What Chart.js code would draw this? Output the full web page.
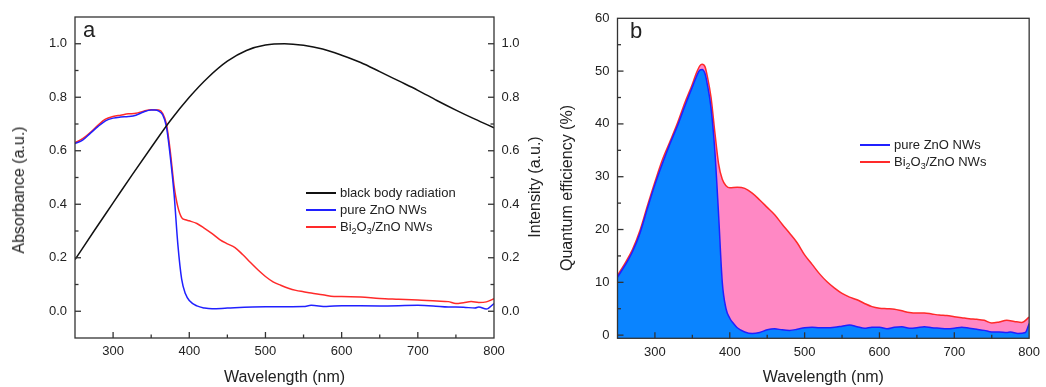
<!DOCTYPE html>
<html><head><meta charset="utf-8">
<script src="https://cdn.jsdelivr.net/npm/chart.js@4.4.1/dist/chart.umd.min.js"></script>
<style>
html,body{margin:0;padding:0;background:#fff;}
#wrap{position:relative;width:1046px;height:387px;overflow:hidden;font-family:"Liberation Sans",Arial,sans-serif;color:#222;}
canvas{position:absolute;top:0;}
#ca{left:0;}
#cb{left:540px;}
.ytitle{position:absolute;font-size:16px;white-space:nowrap;transform:translate(-50%,-50%) rotate(-90deg);z-index:2;}
.panel{position:absolute;font-size:22px;line-height:22px;z-index:2;}
.legend{position:absolute;font-size:13px;z-index:2;}
.legend .row{display:flex;align-items:center;height:17px;white-space:nowrap;}
.legend .sw{width:30px;height:0;border-top:2px solid;margin-right:4px;}
.legend sub{font-size:9px;line-height:0;vertical-align:-3px;}
</style>
</head><body>
<div id="wrap">
<canvas id="ca" width="550" height="387"></canvas>
<canvas id="cb" width="506" height="387"></canvas>
<div class="panel" style="left:83px;top:19px;">a</div>
<div class="panel" style="left:630px;top:20px;">b</div>
<div class="ytitle" style="left:19px;top:190px;">Absorbance (a.u.)</div>
<div class="ytitle" style="left:535px;top:187px;">Intensity (a.u.)</div>
<div class="ytitle" style="left:567px;top:188px;">Quantum efficiency (%)</div>
<div class="legend" style="left:306px;top:184px;">
  <div class="row"><span class="sw" style="border-color:#111"></span><span>black body radiation</span></div>
  <div class="row"><span class="sw" style="border-color:#2020ff"></span><span>pure ZnO NWs</span></div>
  <div class="row"><span class="sw" style="border-color:#ff2a2a"></span><span>Bi<sub>2</sub>O<sub>3</sub>/ZnO NWs</span></div>
</div>
<div class="legend" style="left:860px;top:136px;">
  <div class="row"><span class="sw" style="border-color:#2020ff"></span><span>pure ZnO NWs</span></div>
  <div class="row"><span class="sw" style="border-color:#ff2a2a"></span><span>Bi<sub>2</sub>O<sub>3</sub>/ZnO NWs</span></div>
</div>
</div>
<script>
// ---------- Panel a data ----------
const bbWavelength = [250,275,300,325,350,375,400,425,450,475,500,525,550,575,600,625,650,675,700,725,750,775,800];
const bbIntensity  = [0.193,0.30,0.405,0.51,0.612,0.712,0.80,0.875,0.935,0.975,0.995,1.0,0.994,0.98,0.957,0.93,0.896,0.861,0.826,0.788,0.752,0.718,0.686];

const absWavelengthZnO = [250,260,270,280,290,300,310,320,330,340,350,355,360,365,370,375,380,385,390,395,400,410,420,430,450,500,550,560,580,600,650,700,720,740,760,775,780,790,800];
const absZnO = [0.627,0.64,0.665,0.69,0.712,0.722,0.726,0.728,0.733,0.745,0.752,0.752,0.748,0.735,0.69,0.58,0.44,0.25,0.12,0.065,0.04,0.02,0.012,0.009,0.012,0.017,0.018,0.022,0.018,0.021,0.02,0.022,0.02,0.016,0.015,0.012,0.016,0.008,0.029];

const absWavelengthBi = [250,260,270,280,290,300,310,320,330,340,350,360,365,370,375,380,385,390,395,400,410,420,430,440,450,460,470,480,490,500,510,520,530,540,550,560,575,590,600,625,650,675,700,725,740,750,760,770,780,790,800];
const absBi = [0.63,0.645,0.668,0.695,0.718,0.728,0.733,0.738,0.74,0.748,0.753,0.752,0.74,0.70,0.60,0.47,0.39,0.35,0.342,0.338,0.328,0.31,0.29,0.268,0.252,0.238,0.212,0.183,0.155,0.13,0.11,0.097,0.086,0.078,0.073,0.068,0.062,0.055,0.055,0.053,0.048,0.045,0.042,0.038,0.036,0.029,0.032,0.036,0.033,0.035,0.047];

// ---------- Panel b data ----------
const qeWavelengthBi = [250,260,270,280,290,300,310,320,330,340,350,355,360,363,367,370,375,380,385,390,395,400,410,420,430,440,450,460,470,480,490,500,510,520,530,540,550,560,570,580,590,600,610,620,630,640,650,660,670,680,690,700,710,720,730,740,750,760,770,780,790,800];
const qeBi = [11.3,13.6,16.2,19.8,24.5,29.0,33.2,36.6,40.1,44.0,47.5,49.5,51.0,51.3,50.8,49.0,45.0,38.5,32.5,29.5,28.3,27.9,28.0,27.8,26.9,25.6,24.2,22.8,21.0,19.3,17.5,15.2,13.4,11.6,10.1,8.9,7.9,7.2,6.7,6.0,5.4,5.1,5.0,4.9,4.6,4.3,4.2,4.2,4.0,3.8,3.7,3.5,3.3,3.1,3.0,2.8,2.3,2.5,2.8,2.6,2.4,3.4];

const qeWavelengthZnO = [250,260,270,280,290,300,310,320,330,340,350,355,360,363,367,370,375,380,385,390,395,400,405,410,420,430,440,450,460,470,480,490,500,510,520,530,540,550,560,570,580,590,600,610,620,630,640,650,660,670,680,690,700,710,720,730,740,750,760,770,775,785,795,800];
const qeZnO = [11.0,13.2,15.8,19.3,24.0,28.5,32.5,36.2,39.6,43.4,47.0,48.8,50.2,50.3,49.5,47.5,43.0,35.0,23.0,10.0,5.0,3.2,2.2,1.4,0.6,0.3,0.5,1.0,1.2,1.0,0.9,1.1,1.4,1.5,1.4,1.4,1.5,1.7,1.9,1.6,1.3,1.5,1.5,1.2,1.5,1.6,1.3,1.4,1.6,1.4,1.3,1.2,1.3,1.5,1.3,1.1,0.9,0.6,0.6,0.5,0.6,0.3,0.5,2.2];

const xTickLabels = [300,400,500,600,700,800];

function pts(xs, ys){ return xs.map((x,i)=>({x:x,y:ys[i]})); }

const FONT = {family:'"Liberation Sans", Arial, sans-serif', size:13};
const TXT = '#222';

const frameTicks = {
  id:'frameTicks',
  afterDraw(chart){
    const ctx=chart.ctx, a=chart.chartArea;
    ctx.save();
    ctx.strokeStyle='#333'; ctx.lineWidth=1.3;
    ctx.strokeRect(a.left,a.top,a.right-a.left,a.bottom-a.top);
    Object.values(chart.scales).forEach(s=>{
      if (!s.options.display) return;
      s.ticks.forEach(t=>{
        if (t.value<=s.min+1e-9||t.value>=s.max-1e-9) return;
        const major = t.label!=='' && t.label!==undefined;
        const len = major?6:3.5;
        const p = s.getPixelForValue(t.value);
        ctx.beginPath();
        if (s.axis==='x'){ ctx.moveTo(p,a.bottom); ctx.lineTo(p,a.bottom-len);}
        else if (s.position==='left'){ctx.moveTo(a.left,p);ctx.lineTo(a.left+len,p);}
        else {ctx.moveTo(a.right,p);ctx.lineTo(a.right-len,p);}
        ctx.stroke();
      });
    });
    ctx.restore();
  }
};

function xAxis(h){
  return {
    type:'linear', min:250, max:800,
    grid:{display:false, drawTicks:false}, border:{display:false},
    ticks:{stepSize:50, autoSkip:false, maxRotation:0, padding:6, color:TXT, font:FONT,
      callback:v=> xTickLabels.includes(v) ? String(v) : ''},
    title:{display:true, text:'Wavelength (nm)', color:TXT, font:{family:FONT.family,size:16}, padding:{top:0,bottom:0}},
    afterFit(s){ s.height=h; }
  };
}
function absY(pos, w){
  return {
    type:'linear', position:pos, min:-0.1, max:1.1,
    grid:{display:false, drawTicks:false}, border:{display:false},
    ticks:{stepSize:0.1, autoSkip:false, padding:pos==='left'?8:7.5, color:TXT, font:FONT,
      callback:v=>{ const k=Math.round(v*10); return (k>=0 && k<=10 && k%2===0) ? (k/10).toFixed(1) : ''; }},
    afterFit(s){ s.width=w; }
  };
}

new Chart(document.getElementById('ca'), {
  type:'line',
  data:{datasets:[
    {label:'black body radiation', data:pts(bbWavelength,bbIntensity), yAxisID:'y2', borderColor:'#111', borderWidth:1.5, pointRadius:0, cubicInterpolationMode:'monotone'},
    {label:'pure ZnO NWs', data:pts(absWavelengthZnO,absZnO), yAxisID:'y', borderColor:'#2020ff', borderWidth:1.5, pointRadius:0, cubicInterpolationMode:'monotone'},
    {label:'Bi2O3/ZnO NWs', data:pts(absWavelengthBi,absBi), yAxisID:'y', borderColor:'#ff2a2a', borderWidth:1.5, pointRadius:0, cubicInterpolationMode:'monotone'}
  ]},
  options:{
    responsive:false, animation:false,
    layout:{padding:{top:17,left:0,right:0,bottom:0}},
    plugins:{legend:{display:false}, tooltip:{enabled:false}},
    scales:{ x:xAxis(49), y:absY('left',75), y2:absY('right',56) }
  },
  plugins:[frameTicks]
});

new Chart(document.getElementById('cb'), {
  type:'line',
  data:{datasets:[
    {label:'pure ZnO NWs', data:pts(qeWavelengthZnO,qeZnO), borderColor:'#2020ff', backgroundColor:'#0a84ff', fill:'start', borderWidth:1.5, pointRadius:0, cubicInterpolationMode:'monotone'},
    {label:'Bi2O3/ZnO NWs', data:pts(qeWavelengthBi,qeBi), borderColor:'#ff2a2a', backgroundColor:'#ff88c4', fill:'start', borderWidth:1.5, pointRadius:0, cubicInterpolationMode:'monotone'}
  ]},
  options:{
    responsive:false, animation:false,
    layout:{padding:{top:18.3,left:0,right:14.3,bottom:0}},
    plugins:{legend:{display:false}, tooltip:{enabled:false}},
    scales:{
      x:xAxis(48.7),
      y:{type:'linear', position:'left', min:-0.6, max:60,
        grid:{display:false, drawTicks:false}, border:{display:false},
        ticks:{stepSize:5, includeBounds:false, autoSkip:false, padding:8, color:TXT, font:FONT,
          callback:v=> (v>=0 && Math.abs(v%10)<1e-9) ? String(v) : ''},
        afterFit(s){ s.width=77.5; }}
    }
  },
  plugins:[frameTicks]
});
</script>
</body></html>
